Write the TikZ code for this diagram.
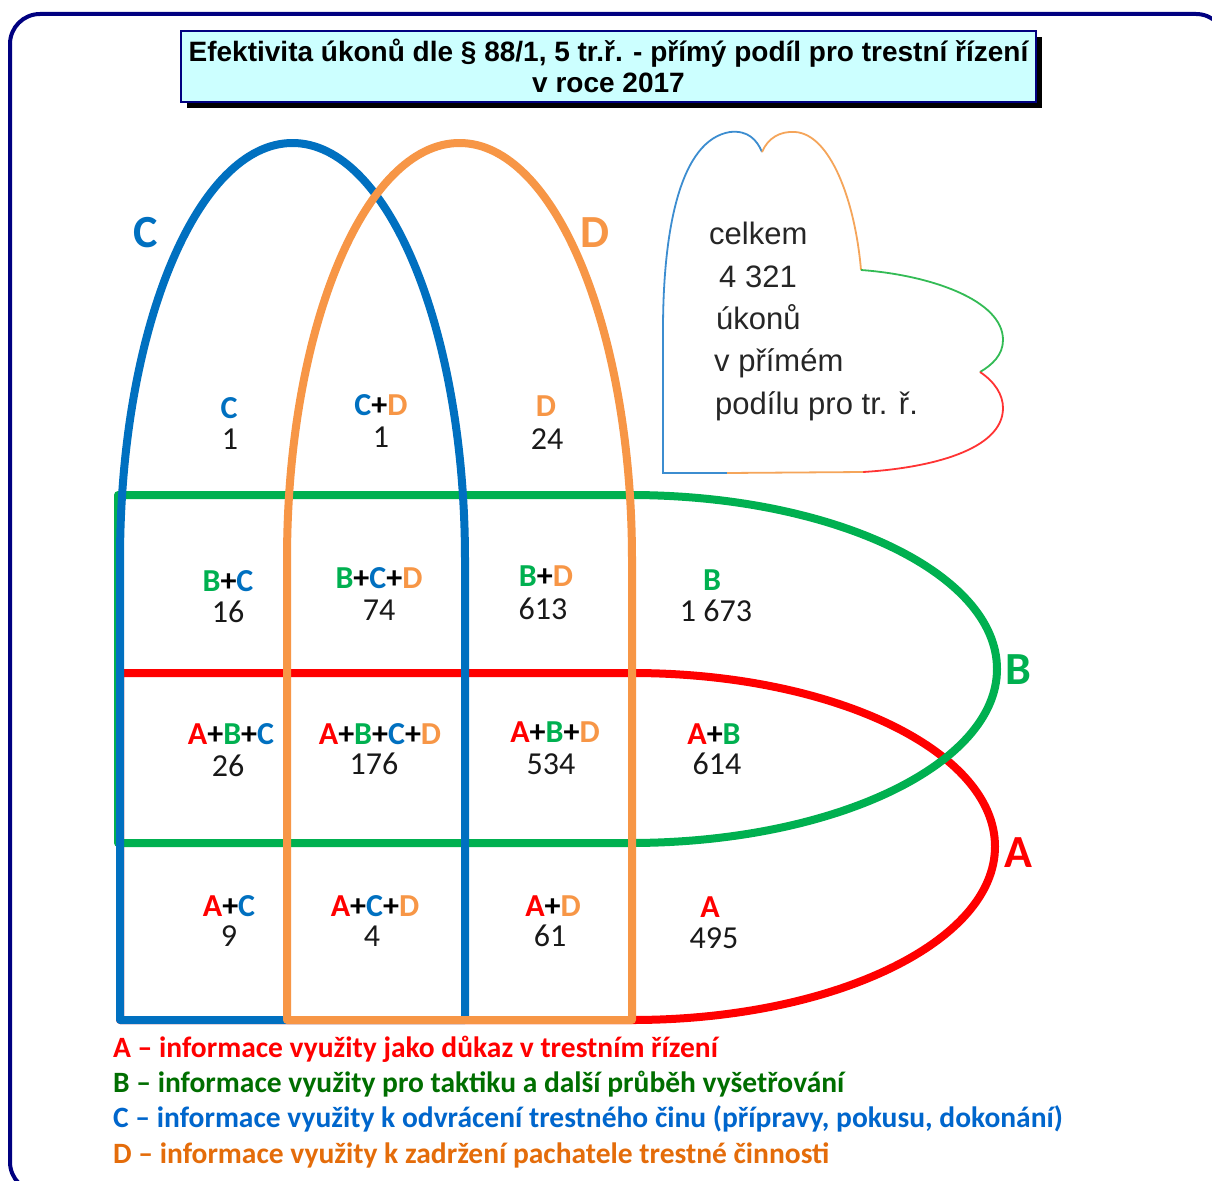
\documentclass[tikz,border=0pt]{standalone}
\usepackage{fontspec}
\setmainfont{Carlito}
\newfontfamily\arialf{Liberation Sans}
\definecolor{cA}{HTML}{FF0000}
\definecolor{cB}{HTML}{00B050}
\definecolor{cC}{HTML}{0070C0}
\definecolor{cD}{HTML}{F79646}
\definecolor{navy}{HTML}{000080}
\definecolor{titlefill}{HTML}{CCFFFF}
\definecolor{legA}{HTML}{FF0000}
\definecolor{legB}{HTML}{006E00}
\definecolor{legC}{HTML}{0066CC}
\definecolor{legD}{HTML}{E46C0A}
\definecolor{hB}{HTML}{3C8DD0}
\definecolor{hO}{HTML}{F5A55A}
\definecolor{hG}{HTML}{33BB55}
\definecolor{hR}{HTML}{FF3333}
\newcommand{\ltrA}{{\color{cA}A}}
\newcommand{\ltrB}{{\color{cB}B}}
\newcommand{\ltrC}{{\color{cC}C}}
\newcommand{\ltrD}{{\color{cD}D}}
\newcommand{\pls}{{\color{black}+}}
\begin{document}
\begin{tikzpicture}[x=1pt,y=-1pt,
  ring/.style={line width=8pt, line join=round},
  hline/.style={line width=1.8pt},
  cell/.style={inner sep=0pt, font=\fontsize{32}{32}\selectfont\bfseries},
  cnum/.style={inner sep=0pt, font=\fontsize{32}{32}\selectfont, text=black!90},
  big/.style={inner sep=0pt, font=\fontsize{46}{46}\selectfont\bfseries},
  legend/.style={inner sep=0pt, anchor=base west, font=\fontsize{29.5}{29.5}\selectfont\bfseries},
  hearttxt/.style={inner sep=0pt, anchor=base west, font=\arialf\fontsize{31}{31}\selectfont, text=black!85},
  titletxt/.style={inner sep=0pt, anchor=base, font=\arialf\bfseries\fontsize{28}{28}\selectfont}]
\useasboundingbox (0,0) rectangle (1212,1180);
\fill[white] (0,0) rectangle (1212,1180);
% outer frame
\draw[navy, line width=4pt, rounded corners=30pt] (10,14) rectangle (1226,1192);
% title box
\fill[black] (187,37) rectangle (1042,108);
\draw[navy, line width=1.5pt, fill=titlefill] (181,31) rectangle (1036,102);
\node[titletxt] (t1) at (608.5,62) {Efektivita úkonů dle § 88/1, 5 tr.ř. - přímý podíl pro trestní řízení};
\node[titletxt] (t2) at (608.5,93) {v roce 2017};
% sets
\draw[ring, cA] (120,673) -- (632,673) arc[start angle=270, end angle=450, x radius=363, y radius=173.5] -- (120,1020) -- cycle;
\draw[ring, cB] (118,495) -- (630,495) arc[start angle=270, end angle=450, x radius=367, y radius=174] -- (118,843) -- cycle;
\draw[ring, cC] (120,1020) -- (120,560) arc[start angle=180, end angle=360, x radius=172.5, y radius=417] -- (465,1020) -- cycle;
\draw[ring, cD] (287,1020) -- (287,560) arc[start angle=180, end angle=360, x radius=172.5, y radius=417] -- (632,1020) -- cycle;
% big labels
\node[big, text=cC] (bigC) at (146,233) {C};
\node[big, text=cD] (bigD) at (595,233) {D};
\node[big, text=cB] (bigB) at (1018,670) {B};
\node[big, text=cA] (bigA) at (1018,853) {A};
% cells
\node[cell] (lC) at (229,408) {\ltrC};
\node[cnum] (nC) at (230,439) {1};
\node[cell] (lCD) at (381,405) {\ltrC\pls\ltrD};
\node[cnum] (nCD) at (381,437) {1};
\node[cell] (lD) at (546,406) {\ltrD};
\node[cnum] (nD) at (547,439) {24};
\node[cell] (lBC) at (228,581) {\ltrB\pls\ltrC};
\node[cnum] (nBC) at (228,612) {16};
\node[cell] (lBCD) at (379,578) {\ltrB\pls\ltrC\pls\ltrD};
\node[cnum] (nBCD) at (379,610) {74};
\node[cell] (lBD) at (546,576) {\ltrB\pls\ltrD};
\node[cnum] (nBD) at (543,609) {613};
\node[cell] (lB) at (712,580) {\ltrB};
\node[cnum] (nB) at (716,611) {1 673};
\node[cell] (lABC) at (231,734) {\ltrA\pls\ltrB\pls\ltrC};
\node[cnum] (nABC) at (228,766) {26};
\node[cell] (lABCD) at (380,734) {\ltrA\pls\ltrB\pls\ltrC\pls\ltrD};
\node[cnum] (nABCD) at (374,764) {176};
\node[cell] (lABD) at (555,732) {\ltrA\pls\ltrB\pls\ltrD};
\node[cnum] (nABD) at (551,764) {534};
\node[cell] (lAB) at (714,734) {\ltrA\pls\ltrB};
\node[cnum] (nAB) at (717,764) {614};
\node[cell] (lAC) at (229,906) {\ltrA\pls\ltrC};
\node[cnum] (nAC) at (229,936) {9};
\node[cell] (lACD) at (375,906) {\ltrA\pls\ltrC\pls\ltrD};
\node[cnum] (nACD) at (372,936) {4};
\node[cell] (lAD) at (553,906) {\ltrA\pls\ltrD};
\node[cnum] (nAD) at (550,936) {61};
\node[cell] (lA) at (710,907) {\ltrA};
\node[cnum] (nA) at (714,938) {495};
% heart shape
\draw[hline, hB] (727,473) -- (663,473) -- (663,330) .. controls (663,230) and (680,140) .. (730,132) .. controls (748,130) and (757,140) .. (762,152);
\draw[hline, hO] (762,152) .. controls (768,138) and (780,131) .. (795,132) .. controls (830,134) and (855,200) .. (861,270);
\draw[hline, hG] (861,270) .. controls (930,275) and (1003,300) .. (1003,340) .. controls (1003,355) and (992,365) .. (980,372);
\draw[hline, hR] (980,372) .. controls (995,382) and (1003,395) .. (1003,408) .. controls (1003,450) and (930,468) .. (863,472);
\draw[hline, hO] (863,472) -- (727,473);
\node[hearttxt] (h1) at (709,244) {celkem};
\node[hearttxt] (h2) at (719,287) {4 321};
\node[hearttxt] (h3) at (716,329) {úkonů};
\node[hearttxt] (h4) at (714,371) {v přímém};
\node[hearttxt] (h5) at (715,414) {podílu pro tr. ř.};
% legend
\node[legend, text=legA] (legA) at (113,1057) {A – informace využity jako důkaz v trestním řízení};
\node[legend, text=legB] (legB) at (113,1092) {B – informace využity pro taktiku a další průběh vyšetřování};
\node[legend, text=legC] (legC) at (113,1127) {C – informace využity k odvrácení trestného činu (přípravy, pokusu, dokonání)};
\node[legend, text=legD] (legD) at (113,1163) {D – informace využity k zadržení pachatele trestné činnosti};
\end{tikzpicture}
\end{document}
